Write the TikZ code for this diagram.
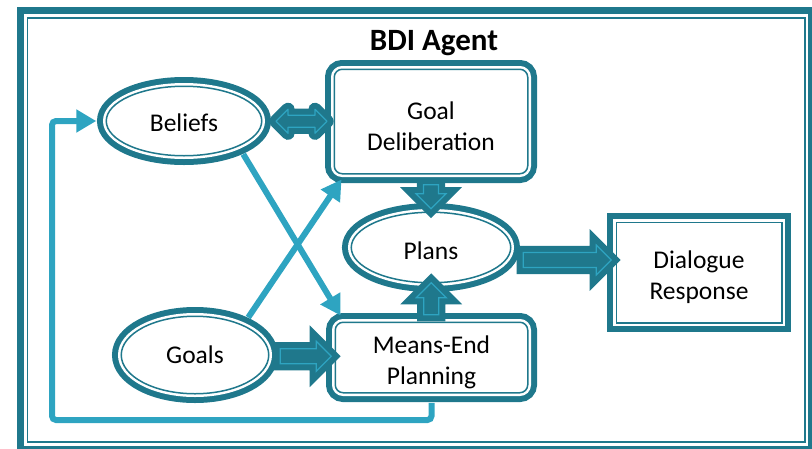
\documentclass[tikz,border=0pt]{standalone}
\usepackage{fontspec}
\setmainfont{Carlito}
\usetikzlibrary{shapes.geometric,shapes.arrows,arrows.meta,calc}

\definecolor{dkteal}{RGB}{31,120,140}
\definecolor{ltteal}{RGB}{46,164,193}

\newcommand{\liftline}[1]{\rule{0pt}{#1}}

\begin{document}
\begin{tikzpicture}[x=1pt, y=-1pt,
    ring/.style={fill=white, draw=dkteal, line width=1.5pt,
        preaction={draw=dkteal, line width=18.5pt},
        preaction={draw=white, line width=6.5pt},
        font=\fontsize{25.5}{31}\selectfont, align=center, inner sep=0pt},
    oval/.style={ring, ellipse},
    box/.style={ring, rectangle, rounded corners=8pt},
    flatbox/.style={ring, rectangle},
    fat/.style={draw=dkteal, fill=dkteal, line width=6pt, double=ltteal,
        double distance=1.2pt, inner xsep=0pt, minimum width=0pt},
    fatarrow/.style={fat, single arrow, inner ysep=4.5pt,
        single arrow head extend=7.5pt, single arrow head indent=0pt},
    fatboth/.style={fat, double arrow, inner ysep=3pt,
        double arrow head extend=6pt, double arrow head indent=0pt, line join=round},
    link/.style={ltteal, line width=6pt},
    linkarrow/.style={link, -{Triangle[length=20pt, width=22pt]}}]

\useasboundingbox (0,0) rectangle (812,448);

\draw [dkteal, line width=7pt] (20.5,10.5) rectangle (811,449);
\draw [dkteal, line width=1.5pt] (27.5,18) rectangle (805,442);

\node [font=\bfseries\fontsize{31}{36}\selectfont] (title) at (434,43) {BDI Agent};

\node [oval, minimum width=155.5pt, minimum height=69.5pt] (bel) at (184,121) {\liftline{22pt}Beliefs};
\node [box, minimum width=193.5pt, minimum height=104.5pt] (gd) at (431,121.5) {\liftline{27pt}Goal\\Deliberation};
\node [oval, minimum width=159.5pt, minimum height=70.5pt] (pl) at (431,247.5) {\liftline{25pt}Plans};
\node [oval, minimum width=147.5pt, minimum height=77.5pt] (go) at (195,355) {Goals};
\node [box, minimum width=192.5pt, minimum height=70.5pt] (me) at (431.5,357.5) {\liftline{27pt}Means-End\\Planning};
\node [flatbox, minimum width=165.5pt, minimum height=100.5pt] (dr) at (699,272.5) {\liftline{27pt}Dialogue\\Response};

\node [fatboth, minimum height=51pt] (bel-gd) at ($(bel.east)!0.55!(gd.west)$) {};
\node [fatarrow, minimum height=24pt, rotate=-90] (gd-pl) at ($(gd.south)!0.5!(pl.north)$) {};
\node [fatarrow, minimum height=32pt, rotate=90] (me-pl) at ($(me.north)!0.5!(pl.south)$) {};
\node [fatarrow, minimum height=51pt] (go-me) at ($(go.east)!0.5!(me.west)$) {};
\node [fatarrow, minimum height=88pt] (pl-dr) at ($(pl.east)!0.5!(dr.west)$) {};

\coordinate (loop) at (52,420);

\draw [linkarrow, shorten <=9pt] (bel.-25) -- ([shift={(6,-6)}]me.north west);
\draw [linkarrow, shorten <=9pt] (go.32) -- ([shift={(8,5)}]gd.south west);
\draw [linkarrow, rounded corners=4pt, shorten <=9.25pt, shorten >=9.25pt]
    (me.south) |- (loop) |- (bel.west);

\end{tikzpicture}
\end{document}
